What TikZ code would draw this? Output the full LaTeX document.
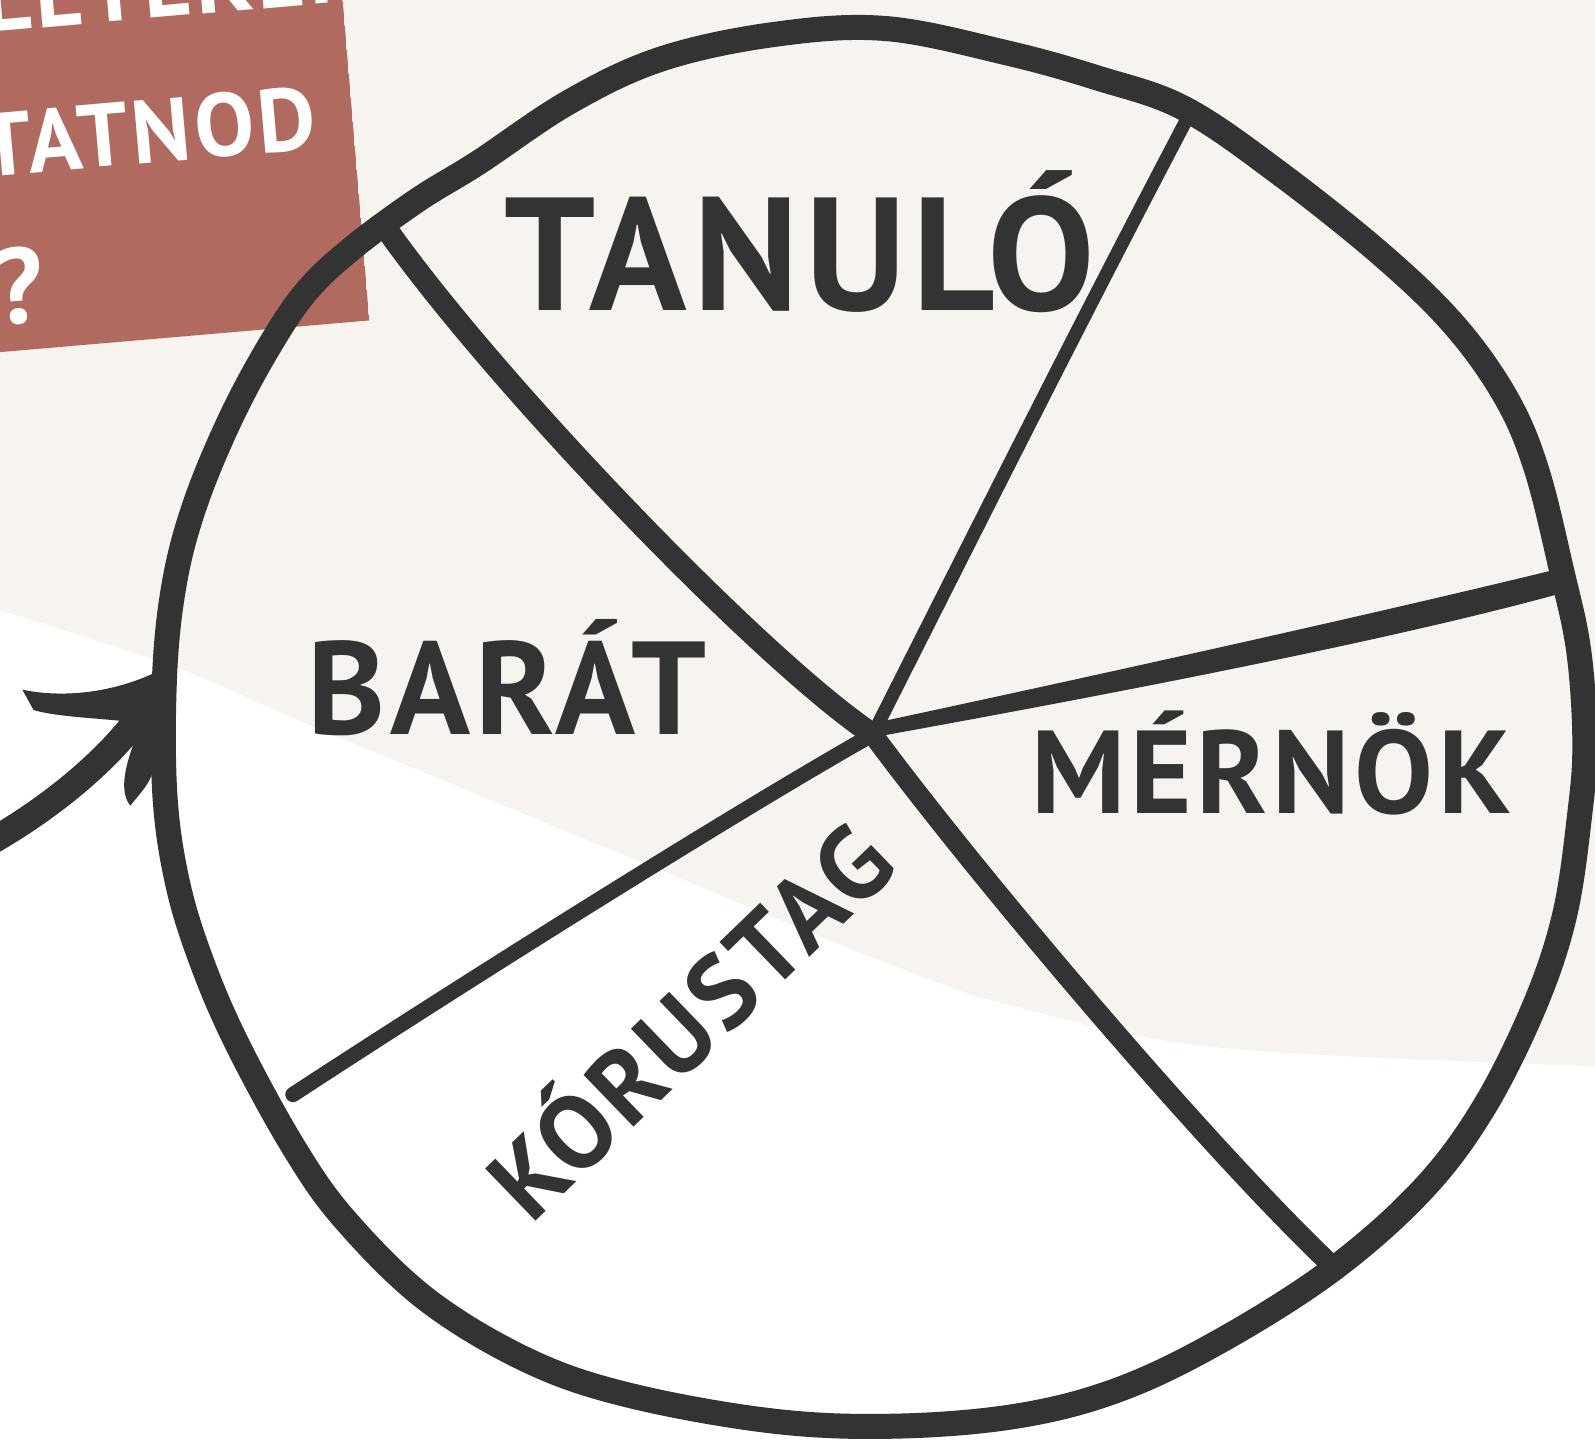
\documentclass[tikz,border=0pt]{standalone}
\usepackage{fontspec}
\usepackage{xcolor}
\usetikzlibrary{calc, positioning}
\newfontfamily\hand{PT Sans}[LetterSpace=4]
\definecolor{ink}{HTML}{333333}
\definecolor{sand}{HTML}{F7F3EF}
\definecolor{rust}{HTML}{B06A5F}

\begin{document}
\begin{tikzpicture}[rim/.style={draw=ink, line width=7pt, line join=round},
  spoke/.style={draw=ink, line cap=round},
  lbl/.style={text=ink, inner sep=0pt, anchor=base},
  note/.style={text=white, inner sep=0pt, anchor=base, rotate=5}]
\clip (0,0) rectangle (15.68,-14.20);
\fill[white] (0,0) rectangle (15.68,-14.20);
\fill[sand] (0,0) -- (15.68,0) -- plot[smooth, tension=0.6] coordinates {(15.68,-10.48) (12.00,-10.30) (10.00,-9.90) (8.80,-9.50) (6.36,-8.50) (3.10,-7.15) (1.70,-6.55) (0,-6.00)} -- cycle;

% question box
\begin{scope}
\clip (-0.1,0.1) -- (3.36,0.1) -- (3.63,-3.15) -- (-0.1,-3.47) -- cycle;
\fill[rust] (-0.1,0.1) -- (3.36,0.1) -- (3.63,-3.15) -- (-0.1,-3.47) -- cycle;
\node[note, font=\hand\bfseries\fontsize{26}{26}\selectfont] (q1) at (1.50,-0.18) {ÉLETEKEN};
\node[note, font=\hand\bfseries\fontsize{25}{25}\selectfont] (q2) at (1.48,-1.60) {TATNOD};
\node[note, font=\hand\bfseries\fontsize{30}{30}\selectfont] (q3) at (0.22,-3.18) {?};
\end{scope}

% arrow
\coordinate (tail) at (-0.10,-8.28);
\coordinate (tip) at (1.50,-6.85);
\draw[spoke, line width=0.26cm] (tail) .. controls (0.60,-7.88) and (1.20,-7.35) .. (tip);
\fill[ink] (0.22,-6.78) .. controls (0.60,-6.86) and (1.10,-6.82) .. (1.55,-6.60) -- (1.45,-7.12) .. controls (1.10,-7.06) and (0.60,-7.06) .. (0.33,-6.98) -- cycle;
\fill[ink] (1.28,-7.92) .. controls (1.15,-7.75) and (1.26,-7.45) .. (1.36,-7.18) -- (1.58,-7.02) -- (1.54,-7.45) .. controls (1.48,-7.68) .. (1.28,-7.92) -- cycle;

% wheel
\coordinate (hub) at (8.58,-7.22);
\coordinate (nw) at (3.82,-2.28);
\coordinate (n) at (11.70,-1.11);
\coordinate (e) at (15.32,-5.72);
\coordinate (se) at (13.05,-12.40);
\coordinate (sw) at (2.88,-10.76);
\draw[spoke, line width=0.22cm] (nw) .. controls (4.90,-3.80) and (7.50,-6.50) .. (hub);
\draw[spoke, line width=0.13cm] (n) .. controls (10.60,-3.20) and (9.50,-5.40) .. (hub);
\fill[ink] (hub) ++(0.05,0.12) .. controls (10.50,-6.70) and (13.50,-6.04) .. ($(e)+(0.05,0.14)$) -- ($(e)+(0,-0.12)$) .. controls (13.50,-6.34) and (10.50,-6.90) .. ($(hub)+(0.05,-0.02)$) -- cycle;
\draw[spoke, line width=0.20cm] (hub) .. controls (9.60,-8.60) and (11.80,-11.20) .. (se);
\draw[spoke, line width=0.15cm] (hub) .. controls (7.20,-8.00) and (4.50,-9.70) .. (sw);
\draw[rim] plot[smooth cycle, tension=0.6] coordinates {(1.62,-6.60) (1.72,-5.70) (1.92,-4.95) (2.25,-4.15) (2.62,-3.45) (3.00,-2.88) (3.45,-2.45) (4.10,-1.97) (4.70,-1.60) (5.60,-1.00) (6.50,-0.58) (7.60,-0.34) (8.70,-0.28) (9.90,-0.52) (10.80,-0.77) (11.65,-1.07) (12.60,-1.72) (13.60,-2.52) (14.30,-3.20) (14.80,-3.90) (15.10,-4.60) (15.35,-5.60) (15.52,-6.40) (15.58,-7.30) (15.53,-8.00) (15.38,-9.00) (15.08,-9.90) (14.58,-10.90) (13.98,-11.70) (13.10,-12.48) (12.00,-13.18) (11.00,-13.66) (10.00,-13.92) (8.80,-14.02) (7.60,-13.97) (6.20,-13.72) (5.20,-13.38) (4.20,-12.78) (3.40,-12.00) (2.90,-11.30) (2.35,-10.30) (2.00,-9.50) (1.75,-8.70) (1.62,-7.80)};

% labels
\node[lbl, font=\hand\bfseries\fontsize{45}{45}\selectfont] (tanulo) at (7.86,-3.05) {TANULÓ};
\node[lbl, font=\hand\bfseries\fontsize{37}{37}\selectfont] (barat) at (4.98,-7.22) {BARÁT};
\node[lbl, font=\hand\bfseries\fontsize{33}{33}\selectfont] (mernok) at (12.50,-8.00) {MÉRNÖK};
\node[lbl, font=\hand\bfseries\fontsize{29}{29}\selectfont, rotate=44] (korus) at (7.04,-10.30) {KÓRUSTAG};
\end{tikzpicture}
\end{document}
